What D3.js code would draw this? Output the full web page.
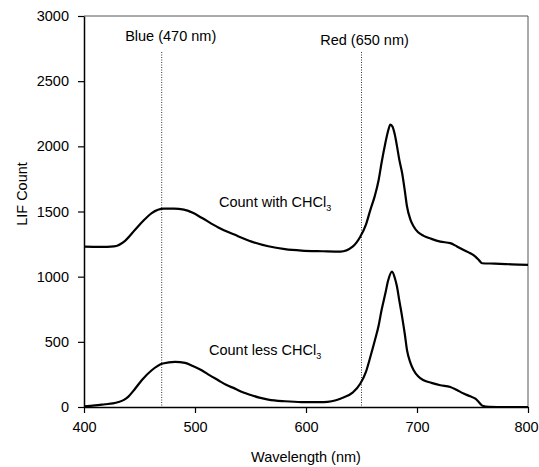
<!DOCTYPE html>
<html>
<head>
<meta charset="utf-8">
<script src="https://cdn.jsdelivr.net/npm/d3@7"></script>
<style>
  body { margin: 0; background: #fff; }
  svg text { font-family: "Liberation Sans", Arial, sans-serif; fill: #000; }
</style>
</head>
<body>
<svg id="chart" width="539" height="467"></svg>
<script>
// spectra, wavelength (nm) vs LIF count
var withWave = [400, 415, 427, 437, 446, 453, 461, 472, 481, 490, 498, 506, 521, 536, 551, 566, 581, 596, 615, 631,
  642, 649, 654, 658, 662, 665.5, 668, 671.5, 674, 676, 678, 680, 682, 684, 686.6, 689, 691, 694, 697, 701,
  706, 713, 721, 730, 736, 742, 748, 752.6, 756, 758.6, 770, 785, 800];
var withCount = [1230, 1228, 1232, 1275, 1360, 1425, 1488, 1522, 1522, 1515, 1490, 1452, 1378, 1321, 1269, 1233, 1211, 1200, 1195, 1192,
  1230, 1308, 1400, 1513, 1620, 1744, 1870, 2026, 2120, 2167, 2150, 2090, 2000, 1900, 1795, 1660, 1538, 1440, 1385, 1340,
  1313, 1290, 1269, 1257, 1232, 1205, 1180, 1154, 1125, 1103, 1100, 1095, 1090];

var lessWave = [400, 410, 419, 426, 431, 436, 440, 446, 452, 461, 471, 482, 491, 498, 506, 513, 521, 528, 536, 543,
  551, 558, 566, 581, 596, 616, 631, 642, 649, 654, 658, 662, 665.5, 668, 671.5, 674, 677.5, 680, 682, 684,
  686.6, 689, 691, 694, 697, 701, 706, 713, 721, 730, 736, 742, 748, 752.6, 756, 759, 765, 780, 800];
var lessCount = [5, 12, 21, 28, 38, 55, 80, 140, 205, 282, 334, 346, 338, 315, 282, 245, 205, 170, 141, 113,
  90, 72, 57, 44, 38, 38, 64, 110, 180, 270, 385, 510, 628, 740, 872, 970, 1038, 990, 923, 820,
  692, 560, 436, 340, 282, 235, 205, 185, 167, 154, 130, 103, 82, 64, 35, 10, 2, 0, 0];

var xTicks = [400, 500, 600, 700, 800];
var yTicks = [0, 500, 1000, 1500, 2000, 2500, 3000];
var markers = [470, 650];
var markerLabels = ["Blue (470 nm)", "Red (650 nm)"];

var plotLeft = 84, plotRight = 528, plotTop = 16, plotBottom = 407;

var svg = d3.select("#chart");

var x = d3.scaleLinear().domain([400, 800]).range([plotLeft, plotRight]);
var y = d3.scaleLinear().domain([0, 3000]).range([plotBottom, plotTop]);

// frame (top and right are light in the original)
svg.append("line")
  .attr("x1", plotLeft).attr("x2", plotRight).attr("y1", plotTop).attr("y2", plotTop)
  .attr("stroke", "#555").attr("stroke-width", 1);
svg.append("line")
  .attr("x1", plotRight).attr("x2", plotRight).attr("y1", plotTop).attr("y2", plotBottom)
  .attr("stroke", "#555").attr("stroke-width", 1);

var xAxis = svg.append("g")
  .attr("transform", "translate(0," + plotBottom + ")")
  .call(d3.axisBottom(x).tickValues(xTicks).tickFormat(d3.format("d"))
    .tickSize(6).tickPadding(9).tickSizeOuter(0));

var yAxis = svg.append("g")
  .attr("transform", "translate(" + plotLeft + ",0)")
  .call(d3.axisLeft(y).tickValues(yTicks).tickFormat(d3.format("d"))
    .tickSize(6).tickPadding(9).tickSizeOuter(0));

[xAxis, yAxis].forEach(function(g) {
  g.select(".domain").attr("stroke", "#000").attr("stroke-width", 1.5);
  g.selectAll(".tick line").attr("stroke", "#000").attr("stroke-width", 1.2);
  g.selectAll(".tick text")
    .attr("font-size", "14.5px")
    .attr("font-family", "Liberation Sans, Arial, sans-serif")
    .attr("fill", "#000");
});

// last x label sits against the page edge in the scan
xAxis.selectAll(".tick text").filter(function(d) { return d == 800; })
  .attr("dx", -2);

// dotted marker lines
svg.selectAll(".marker")
  .data(markers)
  .enter().append("line")
  .attr("class", "marker")
  .attr("x1", function(d) { return x(d); })
  .attr("x2", function(d) { return x(d); })
  .attr("y1", 52)
  .attr("y2", plotBottom)
  .attr("stroke", "#333")
  .attr("stroke-width", 1)
  .attr("stroke-dasharray", "1,1.5");

svg.selectAll(".marker-label")
  .data(markers)
  .enter().append("text")
  .attr("class", "marker-label")
  .attr("x", function(d, i) { return x(d) + (i == 0 ? 9 : 3); })
  .attr("y", function(d, i) { return i == 0 ? 41 : 45; })
  .attr("text-anchor", "middle")
  .attr("font-size", "14.5px")
  .text(function(d, i) { return markerLabels[i]; });

var line = d3.line()
  .x(function(d) { return x(d[0]); })
  .y(function(d) { return y(d[1]); })
  .curve(d3.curveMonotoneX);

var series = [d3.zip(withWave, withCount), d3.zip(lessWave, lessCount)];

svg.selectAll(".spectrum")
  .data(series)
  .enter().append("path")
  .attr("class", "spectrum")
  .attr("d", line)
  .attr("fill", "none")
  .attr("stroke", "#000")
  .attr("stroke-width", 2.2)
  .attr("stroke-linejoin", "round");

// curve annotations with subscript 3
function annotate(tx, ty, label) {
  var t = svg.append("text")
    .attr("x", tx).attr("y", ty)
    .attr("font-size", "14.5px");
  t.append("tspan").text(label);
  t.append("tspan").attr("dy", 4).attr("font-size", "9px").text("3");
}
annotate(219, 207, "Count with CHCl");
annotate(209, 355, "Count less CHCl");

// axis titles
svg.append("text")
  .attr("x", (plotLeft + plotRight) / 2)
  .attr("y", 462)
  .attr("text-anchor", "middle")
  .attr("font-size", "14.5px")
  .text("Wavelength (nm)");

svg.append("text")
  .attr("transform", "translate(27,194) rotate(-90)")
  .attr("text-anchor", "middle")
  .attr("font-size", "14.5px")
  .text("LIF Count");
</script>
</body>
</html>
